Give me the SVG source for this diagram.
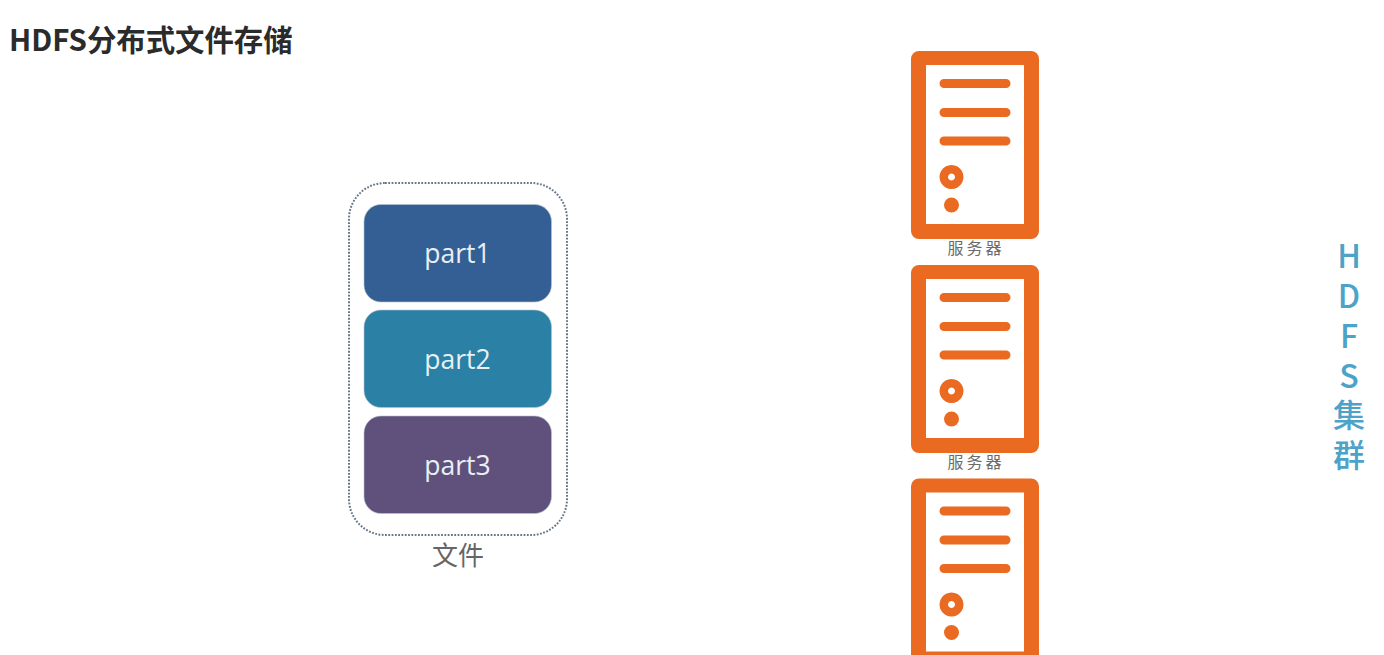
<svg xmlns="http://www.w3.org/2000/svg" width="1384" height="655" viewBox="0 0 1384 655">
<style>
.sans{font-family:"Noto Sans CJK SC","Noto Sans",sans-serif}
.part{font-family:"Open Sans","Noto Sans",sans-serif;font-size:26.500px;fill:#e8f0f4;text-anchor:middle}
.box{stroke:#b8c4cc;stroke-width:.6}
.srvl{font-family:"Noto Sans CJK SC",sans-serif;font-size:16px;fill:#6b6b6b;text-anchor:middle;letter-spacing:3px}
.side{font-family:"Noto Sans CJK SC",sans-serif;font-size:32px;font-weight:500;fill:#4da3c7;writing-mode:vertical-rl;text-orientation:upright;letter-spacing:7.800px}
.o{fill:#e96a20}
.l{stroke:#e96a20;stroke-width:9;stroke-linecap:round;fill:none}
</style>
<defs>
<g id="srv">
<path class="o" fill-rule="evenodd" d="M919 51H1031a8 8 0 0 1 8 8V231a8 8 0 0 1-8 8H919a8 8 0 0 1-8-8V59a8 8 0 0 1 8-8ZM926 65V224H1024V65Z"/>
<path class="l" d="M944 83.500H1006M944 112.500H1006M944 141H1006"/>
<path class="o" fill-rule="evenodd" d="M951.500 165a12 12 0 1 0 .01 0ZM951.500 173.500a3.500 3.500 0 1 1-.01 0Z"/>
<circle class="o" cx="951.500" cy="205" r="7.500"/>
</g>
</defs>
<rect width="1384" height="655" fill="#ffffff"/>
<text id="title" class="sans" x="9" y="50.500" font-size="29.400" font-weight="700" fill="#2b2b2b">HDFS分布式文件存储</text>
<g id="file">
<rect x="349" y="183" width="218" height="352" rx="36" fill="none" stroke="#66778a" stroke-width="2" stroke-dasharray="1.800 1.500"/>
<text class="sans" x="458" y="565" font-size="26" fill="#666666" text-anchor="middle">文件</text>
</g>
<g id="part1"><rect class="box" x="364" y="204.500" width="187.500" height="97.500" rx="17" fill="#345f94"/><text class="part" x="457.500" y="263">part1</text></g>
<g id="part2"><rect class="box" x="364" y="310" width="187.500" height="97.500" rx="17" fill="#2b80a6"/><text class="part" x="457.500" y="368.500">part2</text></g>
<g id="part3"><rect class="box" x="364" y="416" width="187.500" height="97.500" rx="17" fill="#60507c"/><text class="part" x="457.500" y="474.500">part3</text></g>
<g id="server1"><use href="#srv"/><text class="srvl" x="976" y="254">服务器</text></g>
<g id="server2"><use href="#srv" y="214"/><text class="srvl" x="976" y="468">服务器</text></g>
<g id="server3"><use href="#srv" y="427.500"/></g>
<g id="cluster">
<text class="side" x="1349" y="240">HDFS集群</text>
</g>
<g id="connectors"/>
</svg>
